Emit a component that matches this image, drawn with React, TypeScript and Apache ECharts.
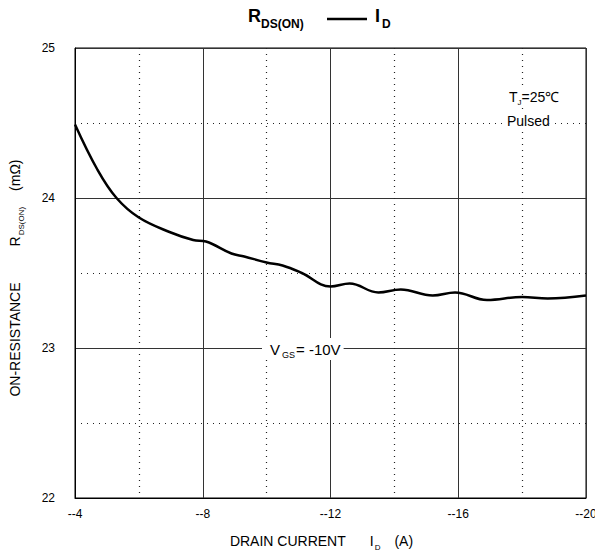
import React, { useEffect, useRef } from "react";
import * as echarts from "echarts";

const currentA = [-4, -4.7, -5.3, -6, -7, -7.7, -8.1, -8.9, -9.3, -10, -10.5, -11.1, -12, -12.6, -13.5, -14.2, -15.2, -15.9, -16.9, -18, -18.8, -20];
const rdsOn = [24.49, 24.19, 24.0, 23.87, 23.77, 23.72, 23.71, 23.63, 23.61, 23.57, 23.55, 23.5, 23.41, 23.43, 23.37, 23.39, 23.35, 23.37, 23.32, 23.34, 23.33, 23.35];
const xTickLabels: Record<string, string> = { "-4": "--4", "-8": "--8", "-12": "--12", "-16": "--16", "-20": "--20" };
const yTickLabels = ["22", "23", "24", "25"];

const FONT = "Liberation Sans, Arial, sans-serif";

export default function App() {
  const ref = useRef<HTMLDivElement>(null);
  useEffect(() => {
    if (!ref.current) return;
    const chart = echarts.init(ref.current, null, { renderer: "svg" });
    const dotted = { color: "#222", width: 1.2, type: [1, 5] as number[] };
    const nameRich = {
      n: { fontSize: 14, fontFamily: FONT, color: "#000" },
      s: { fontSize: 8, fontFamily: FONT, color: "#000", padding: [12, 0, 0, 1] },
      g: { width: 24 },
      g2: { width: 14 },
    };
    chart.setOption({
      animation: false,
      backgroundColor: "#fff",
      textStyle: { fontFamily: FONT },
      grid: { left: 70, right: 17, top: 48, bottom: 62, show: true, borderColor: "#000", borderWidth: 1 },
      xAxis: {
        type: "value",
        min: -20,
        max: -4,
        interval: 4,
        inverse: true,
        axisLine: { show: true, lineStyle: { color: "#000", width: 1 } },
        axisTick: { show: false },
        axisLabel: {
          color: "#000",
          fontSize: 12,
          fontFamily: FONT,
          margin: 10,
          formatter: (v: number) => xTickLabels[String(v)] ?? String(v),
        },
        splitLine: { show: true, lineStyle: { color: "#333", width: 1 } },
        minorTick: { show: false, splitNumber: 2 },
        minorSplitLine: { show: true, lineStyle: dotted },
        name: "{n|DRAIN CURRENT}{g|}{n|I}{s|D}{g2|}{n|(A)}",
        nameLocation: "middle",
        nameGap: 33,
        nameTextStyle: {
          color: "#000",
          fontSize: 14,
          fontFamily: FONT,
          padding: [0, 18, 0, 0],
          rich: nameRich,
        },
      },
      yAxis: {
        type: "value",
        min: 22,
        max: 25,
        interval: 1,
        axisLine: { show: true, lineStyle: { color: "#000", width: 1 } },
        axisTick: { show: false },
        axisLabel: {
          color: "#000",
          fontSize: 12,
          fontFamily: FONT,
          margin: 20,
          formatter: (v: number) => (yTickLabels.includes(String(v)) ? String(v) : ""),
        },
        splitLine: { show: true, lineStyle: { color: "#333", width: 1 } },
        minorTick: { show: false, splitNumber: 2 },
        minorSplitLine: { show: true, lineStyle: dotted },
        name: "{n|ON-RESISTANCE}{g|}{n|R}{s|DS(ON)}{g2|}{n|(mΩ)}",
        nameLocation: "middle",
        nameRotate: 90,
        nameGap: 50,
        nameTextStyle: {
          color: "#000",
          fontSize: 14,
          fontFamily: FONT,
          padding: [0, 10, 0, 0],
          rich: { ...nameRich, g: { width: 36 }, g2: { width: 16 } },
        },
      },
      series: [
        {
          type: "line",
          data: currentA.map((x, i) => [x, rdsOn[i]]),
          smooth: 0.4,
          showSymbol: false,
          lineStyle: { color: "#000", width: 2.5 },
        },
      ],
      graphic: [
        { type: "text", left: 248, top: 7, z: 100, style: { text: "R", fill: "#000", fontSize: 18, fontWeight: "bold", fontFamily: FONT } },
        { type: "text", left: 261, top: 18, z: 100, style: { text: "DS(ON)", fill: "#000", fontSize: 12, fontWeight: "bold", fontFamily: FONT } },
        { type: "line", z: 100, shape: { x1: 327, y1: 19, x2: 367, y2: 19 }, style: { stroke: "#000", lineWidth: 2.5 } },
        { type: "text", left: 375, top: 7, z: 100, style: { text: "I", fill: "#000", fontSize: 18, fontWeight: "bold", fontFamily: FONT } },
        { type: "text", left: 382, top: 18, z: 100, style: { text: "D", fill: "#000", fontSize: 12, fontWeight: "bold", fontFamily: FONT } },
        {
          type: "text",
          left: 509,
          top: 88,
          z: 100,
          style: {
            text: "T{s|J}=25℃",
            fill: "#000",
            fontSize: 14,
            fontFamily: FONT,
            backgroundColor: "#fff",
            rich: { s: { fontSize: 8, fill: "#000", fontFamily: FONT, padding: [10, 0, 0, 0] } },
          } as any,
        },
        {
          type: "text",
          left: 507,
          top: 114,
          z: 100,
          style: { text: "Pulsed", fill: "#000", fontSize: 14, fontFamily: FONT, backgroundColor: "#fff" } as any,
        },
        {
          type: "text",
          left: 262,
          top: 338,
          z: 100,
          style: {
            text: "V{s|GS}= -10V",
            fill: "#000",
            fontSize: 15,
            fontFamily: FONT,
            backgroundColor: "#fff",
            padding: [1, 3, 1, 8],
            rich: { s: { fontSize: 9, fill: "#000", fontFamily: FONT, padding: [11, 1, 0, 2] } },
          } as any,
        },
      ],
    });
    return () => chart.dispose();
  }, []);
  return <div ref={ref} style={{ width: 603, height: 560, margin: -8 }} />;
}
